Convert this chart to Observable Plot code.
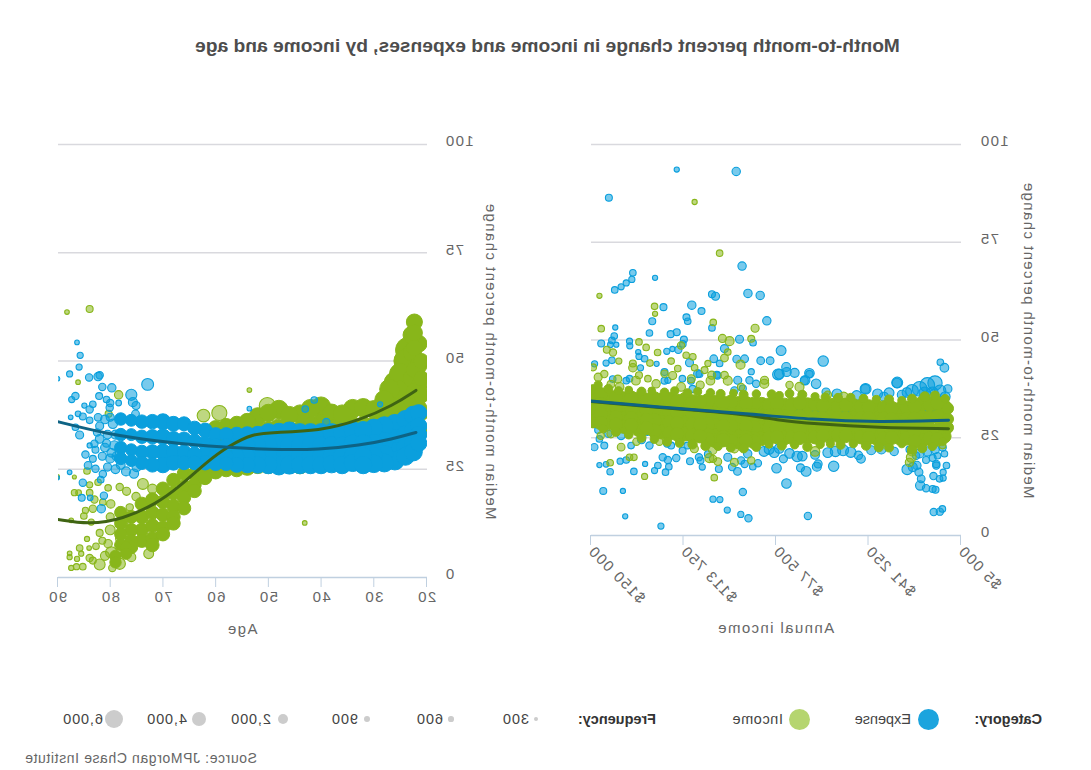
<!DOCTYPE html>
<html>
<head>
<meta charset="utf-8">
<script src="https://cdn.jsdelivr.net/npm/d3@7"></script>
<script src="https://cdn.jsdelivr.net/npm/@observablehq/plot@0.6"></script>
<style>
html,body{margin:0;padding:0;background:#fff;overflow:hidden}
#page{position:relative;width:1091px;height:770px;transform:scaleX(-1);font-family:"Liberation Sans",Arial,sans-serif;color:#666}
#page>svg,#page>div{position:absolute}
#title{left:-2px;width:1091px;top:35px;text-align:center;font-weight:bold;font-size:19.2px;color:#4d4d4d}
.lg{top:710px;font-size:14.5px;line-height:18px;letter-spacing:.9px;color:#444;white-space:nowrap}
.lb{font-weight:bold;color:#333;letter-spacing:0}
.dot{border-radius:50%}
#src{left:834px;top:750px;font-size:14px;letter-spacing:.6px;color:#666;white-space:nowrap}
</style>
</head>
<body>
<div id="page"></div>
<script>
// [annual income in $ thousands, median change %, frequency]
const incomeExpensePoints = [
[142.8,86.4,900],[116.2,93.6,500],[92.9,93.1,1300],[90.6,68.9,1300],[133.4,67.2,800],[124.7,65.9,500],[133.8,65.5,700],[136,64.6,700],[138,63.6,700],[140.5,62.8,800],[102.4,61.7,900],[101,61.2,1200],[88.3,61.9,1300],[83.5,61.4,1300],[121.4,58.4,900],[110.3,58.9,1300],[106.5,57.4,900],[112.4,55.8,900],[111.9,54.8,800],[125.8,54.8,900],[80.9,54.9,1300],[140.3,53.2,500],[102.4,53.1,800],[140.7,51,800],[126.9,51.8,800],[118.6,51.5,900],[116.2,52,900],[113.4,50.1,900],[91.6,50.2,1200],[86.3,49.3,800],[145.8,49.1,900],[142.2,48.8,600],[141.6,49.9,800],[139.9,48.8,500],[134.7,49.7,700],[134.6,48.5,700],[120.1,47.1,700],[117.9,47.7,500],[115.6,47.5,1000],[113.8,49,800],[97.5,47.8,1200],[75.3,47.3,1800],[131.3,46.9,500],[131,45.8,700],[128.8,45.2,800],[101.7,45.2,1100],[92.7,45.1,1100],[89.6,45.2,1100],[83.3,44.7,1100],[79.6,44.7,1100],[58.8,44.6,2000],[148.4,43.9,700],[143.9,44.1,700],[141.6,44.8,800],[124.1,43.9,500],[130.4,42.9,700],[111.2,44.2,1200],[73.3,43.1,1500],[76.5,41.2,2200],[73.1,41.8,1500],[70,41.6,1500],[64.2,41.5,1700],[65.9,39.7,1700],[61.6,38.8,1700],[87,41.9,700],[11.3,42.9,1400],[12.9,44.3,800],[29.8,39.1,2200],[42.2,37.5,2200],
[134.7,40.1,800],[119.7,39.7,700],[114,40.1,800],[108,41.4,1200],[99.4,44,800],[100.5,41.1,900],[92.3,39.7,1200],[87.7,39.7,1000],[85.1,38.8,1000],[93.6,37.1,1000],[90.3,37.6,900],[141.3,40,800],[136,39.6,800],[121,41.8,900],[121,39.6,900],[107.3,41.3,900],[100.2,40.9,1000],[110.6,39.6,900],[110,37.5,900],[76,41.3,1800],[66.2,39.6,1200],[64.2,41.3,1000],[53.4,36.2,1800],[57.7,36.7,1200],[45.7,35.8,1800],[37.5,36.2,1800],[42.3,37.5,1500],[29.9,39,1700],[24,37,3000],[21,37.5,4000],[18,38.5,4000],[15,39,3800],[19,36.5,2500],[16,36.5,2500],[13,37,2500],[11,35.5,1800],[10,37.5,1300],[33,36.5,1800],[28,36,1500],[26,36.6,1700],[35,35.5,1500],
[145,11.4,900],[137.3,11.4,500],[136.4,4.9,500],[122.4,2.4,700],[102,9.3,700],[99.3,9.2,700],[90.3,11.1,1000],[96.4,6.5,700],[91.1,5.4,700],[88.1,4.4,1000],[73.2,13.3,1700],[64.8,5,1000],[15.5,6,1000],[13.1,6.1,1000],[12.1,6.8,800],[142.3,16.3,800],[146.5,18,500],[143.9,18.2,600],[138.4,19,700],[136,19.3,800],[133,16.4,800],[128.6,18.3,500],[124.9,16.6,700],[123.6,17.9,800],[120.6,16.2,800],[119.3,17.6,800],[121.7,20,1000],[119.7,19.3,1000],[116.4,19.8,1000],[106.2,17.5,700],[106.9,19.2,900],[99.7,17,900],[94.5,17.5,1000],[92.4,16.4,1100],[89.6,18.3,1000],[86.4,17.6,800],[84.4,18.5,1000],[77.1,17.2,1700],[74.4,19.6,1200],[67.7,17.3,1200],[65.5,16.4,1800],[61.3,17.6,1500],[54.7,17.7,2000],[60.8,18.3,1200],[25.9,16.9,2000],[23.7,17.5,1500],[22.1,17.9,1300],[21.3,16.2,1200],[20.4,14.5,1100],[20.8,12.8,1600],[18.5,12.1,1000],[15.9,11.9,900],[14.8,11.7,900],[15.6,15.2,1000],[13.2,14.5,800],[11.8,14.7,700],[11.8,16.2,700],[10.5,17.9,800],[14.5,17.9,1000],[18.5,19.3,900],[15.9,19.8,900],[14,20.4,800],[11.3,20.9,800],[14.5,18.3,1000],[22.4,20.4,1000],
[148.5,22.6,1000],[146.5,24.7,800],[144.6,23,900],[134.1,23,800],[126.9,23,1000],[118.4,23,900],[113.9,21.7,900],[96.2,20,1200],[91,19.2,1000],[88.4,20.9,1300],[107.5,20,1000],[111,19,900],[104,20.8,900],[82,21.5,1800],[80,22,1800],[78,21.2,1800],[76,22.3,1800],[72,21,1700],[69,20.2,2000],[67,20.3,1700],[62,20.6,1400],[57,21.2,1800],[54,21.5,2000],[51,21.8,2200],[48,21.3,2000],[45,20.5,1300],[44,19.6,1400],[40,21.8,1500],[36,22,1500],[31,21.5,1300],
[21,21,1500],[18,21.5,1600],[15,22,1400],[12,22.5,1000],[25,22,900],[147,27,900],[143,26,1000],[138,25.5,1100],[130,24.5,1200],[120,23.5,1000],[112,23,900]
];
const incomeExpenseBand = [
[148,[33,29],2400],[144,[33,29],2400],[140,[33,28],2400],[136,[32,28],2400],[132,[32,28],2400],[128,[32,27],2400],[124,[32,27],2400],[120,[32,27],2400],[116,[32,26],2400],[112,[32,26],2400],[108,[32,26],2400],[104,[32,26],2400],[100,[32,26],2400],[96,[32,26],2400],[92,[32,26],2400],[88,[32,26],2400],[84,[32,26],2400],[80,[32,26],2400],[76,[32,26],2400],[72,[32,26],2400],[68,[32,26],2400],[64,[32,26],2400],[60,[32,26],2400],[56,[32,26],2400],[52,[32,26],2400],[48,[32,26],2400],[44,[32,26],2400],[40,[32,26],2400],[36,[32,26],2400],[32,[32,26],2400],[28,[32,26],2400],[24,[32,26],2400],[20,[32,26],2400],[16,[32,26],2400],[12,[32,26],2400]
];
const incomeIncomePoints = [
[109.2,85.3,500],[99.4,72.2,800],[146.5,61.3,500],[124.9,58.6,800],[124.7,56.7,500],[101.9,54.5,800],[145.8,52.9,800],[85.5,53,1200],[98.3,50.4,1200],[95.5,49.7,1500],[87,50.3,900],[131,49.5,800],[128.2,48.1,800],[123.7,46.8,800],[114.5,48.6,1000],[96.2,46.9,800],[143.6,47.5,900],[141.2,46.8,1000],[112.5,46.1,800],[109.9,45.7,800],[97.5,45.4,1100],[138.9,44.6,700],[133.4,44,900],[126.7,44.1,800],[133.4,42.9,1300],[118.4,44.6,800],[109.2,42.9,800],[91.2,43.7,1500],[149,43,900],[147,40.5,1200],[104,44,700],[102.5,41,1200],
[144.6,41.3,1000],[139.3,40,1200],[132.2,39.6,1400],[124.3,38.8,1300],[117.8,40.9,1200],[114.5,38,1400],[103,39.6,1400],[96.2,39.6,1500],[81.9,38.8,1500],[138.6,38,1400],[131,41,900],[127.5,40.1,800],[121,41.4,1000],[115.8,42.7,800],[110.5,40.1,1200],[105.3,42.3,900],[97.5,41,1100],[81.8,39.7,1200],[68.1,38,1500],[72,38.5,1000],[50.8,35.4,1800],[57,36,1000],[142,38.7,1100],[107,38.5,1200],[91,38,1000],
[101.5,14.8,800],[128.8,15.1,700],[142.3,18.6,800],[134.7,20,800],[133,20,800],[103.4,19.8,1500],[100.1,18.9,1100],[93.6,18.7,1200],[87,19.2,1000],[24.3,20,1800],[25,18.7,1300],
[138,22.6,1100],[115.2,23.5,1000],[109.3,22.2,1200],[102.1,21.8,1300],[93.6,22.2,1300],[102,19.6,1000],[132,24,1000],[146,25.5,1000],[142,26,1200],[123,24,1000],[105,23,1000],[62,21.5,1700],[24,21.5,1500],[12,23,800],[10,33,1100]
];
const incomeIncomeBand = [
[149,[36.8,34.2,31.8,29.3],1900],[146,[36.1,33.6,31,28.8],1800],[143,[35.5,33,30.4,28.9],2000],[140,[35.4,32.8,30.2,28.4],1800],[137,[35,32.4,29.9,27.9],1900],[134,[35.2,32.6,30,28.3],1800],[131,[34.9,32.1,29.6,27.1],2000],[128,[34.7,32,29.5,27.5],1800],[125,[35,32.3,29.4,26.8],1900],[122,[34.6,31.9,29,26.5],2000],[119,[34.8,31.8,28.9,26.2],1900],[116,[34.4,31.5,28.7,25.9],1800],[113,[34.7,31.6,28.8,26],2000],[110,[34.2,31.3,28.4,25.5],1900],[107,[34.1,31,28.3,25.4],1800],[104,[34.5,31.5,28.5,25.8,24.6],1900],[101,[34,31.2,28.1,25.5,24.3],2000],[98,[33.9,31,28,25.2,24.4],1800],[95,[34.1,31,28,25,24.2],1900],[92,[33.7,30.8,27.8,25,24],2000],[89,[33.8,30.9,27.9,25.1,24.3],1800],[86,[33.6,30.7,27.7,24.9,24],1900],[83,[33.5,30.5,27.6,24.8],2000],[80,[33.4,30.6,27.5,25],1900],[77,[33.9,30.8,27.6,25.2],1800],[74,[33.3,30.4,27.4,25],2000],[71,[33.5,30.3,27.3,25.1],1900],[68,[33.9,30.5,27.2,25],1800],[65,[33.4,30.2,27.1,25.4],2000],[62,[33.6,30.1,27.3,25.2],1900],[59,[33.2,30,27,25.5],1800],[56,[33.3,30.2,27.1,25.8],2000],[53,[33.1,30,27,25.6],1900],[50,[33.4,30,27.2,25.5],1800],[47,[33.2,30.1,27,25.7],2000],[44,[33,29.9,27.1,25.2],1900],[41,[33,30,27,25],1800],[38,[32.8,29.8,26.9,25],2000],[35,[32.7,29.9,26.8,24.8],1900],[32,[32.6,29.7,26.9,25],1800],[29,[32.2,29.5,26.8,25.1],2000],[26,[32.6,29.8,27,24.9],1900],[23,[33,29.9,26.8,24],1800],[20,[33.8,30.2,27,24.4],2000],[17,[33.5,30.1,27.1,24.8],1900],[14,[33.8,30.4,27,24.6],1800],[11.5,[33,30,27.2,25.4],2000],[10,[32.5,29.8,27.6],1300]
];
const incomeIncomeEdge = [
[147,38.5,1200],[143,37.5,1500],[139,37,1300],[135,37.2,1100],[130,36.8,1500],[126,37,1100],[121,36.6,1400],[117,37,1200],[112,36.4,1500],[108,36.8,1200],[103,36.5,1300],[99,36.2,1500],[94,36.4,1100],[90,36,1500],[85,36.2,1300],[79,36.1,1500],[76,35.8,1200],[72,36.3,1400],[67,36,1500],[62,35.5,1200],[58,35.4,1300],[53,35.2,1500],[48,35.3,1300],[43,35,1400],[38,34.8,1200],[33,34.8,1500],[28,34.5,1200],[24,35,1500],[19,35.5,1800],[15,35.8,1500],[11,35,1300],
[145,27.3,1200],[140,26.5,1500],[135,25.8,1400],[130,25,1500],[125,24.6,1300],[120,24,1500],[115,23.8,1400],[110,23.3,1600],[105,22.9,1500],[100,22.8,1300],[95,22.5,1500],[90,22.3,1600],[85,22.6,1400],[80,23.3,1100],[75,23,1500],[70,23.2,1300],[65,22.7,1600],[60,23.3,1300],[56,23.5,1200],[52,23.2,1500],[47,23.5,1300],[42,23,1600],[37,22.6,1600],[33,22.5,1500],[28,23.5,1300],[24,22,1500],[20,22.3,1500],[16,22.8,1300],[12,24,1100]
];
const incomeExpenseLine = [[150,34.4],[115,32.4],[89,31.2],[63,29.6],[37,29],[9.7,29.5]];
const incomeIncomeLine = [[150,34.3],[115,32.3],[89,31],[76,29.4],[63,28.6],[37,27.6],[9.7,27.3]];

// [age, median change %, frequency]
const ageIncomePoints = [
[88.2,61.3,400],[83.9,62,900],[86.1,45.1,400],[78.4,42.2,1300],[53.6,43.3,400],[80.3,37.8,900],[50.2,39.7,4800],[59.3,38,4200],[62.3,37.4,3000],[84.4,24.6,800],[86.8,23.2,300],[90,23.3,300],[83.9,21.4,700],[82.3,22,800],[80.4,20.7,800],[86.8,19.6,700],[86,19.6,600],[83.9,19.6,800],[83,18,1000],[78.2,20.9,1000],[76.9,19.9,1200],[75.1,18.7,1300],[73.8,21.6,2200],[72,20.5,1600],[79.9,17,1300],[81.4,17.4,800],[83.3,15.9,1000],[84.7,15.5,700],[85,14.2,800],[78.2,15.5,1000],[76.3,16.2,1000],[83.6,12.8,700],[87.4,13.2,400],[82,10.3,900],[84.4,8.9,500],[82.7,7.2,800],[85.8,6.8,800],[84,6.8,400],[87.7,5.6,400],[87.7,4.7,500],[85.5,5.5,500],[86.3,4.3,500],[83.9,4.5,1000],[87.4,2.2,500],[86.4,2.5,700],[85.2,2.5,800],[82,3,2200],[83.3,3.9,900],[79.6,2.2,1000],[78.2,3.2,2400],[76,4.7,1500],[76.8,5.5,1200],[79.8,5.8,2400],[80.4,7.8,1300],[72.7,5.5,1800],[43.1,12.6,400],
[80,11,1800],[78,9,2000],[81,5,1500],[77.5,12,1800],[80,14,1200],[81.5,8.5,900]
];
const ageIncomeBand = [
[79,[5,3.5],1700],[77,[7,5.5],1700],[78,[15,12.5,10,7.5],2000],[76,[14,11,8.5,7],2200],[74,[17,14,11,8.5],2400],[72,[18,15,12,9,7.5],2400],[70,[20.5,17.5,14.5,11.5,10],2400],[68,[22.5,19.5,16.5,14,12.5],2400],[66,[24,21,18.5,16],2400],[64,[24,21.5,20],2400],[62,[24,23],2400],
[60,[34.5,31,27.5,24.5],3000],[58,[35,32,28.5,25],3000],[56,[35.5,32,28.5,25],3000],[54,[36,32.5,29,25.5],3600],[52,[37.2,33.5,29.5,26],4000],[50,[38,34,30,26],4000],[48,[38.8,34.5,30,26],4500],[46,[37.5,34,30,26],4000],[44,[37.8,34,30,26],4200],[42,[39,35,31,27],4500],[40,[39.5,35.5,31,27],4800],[38,[38,34.5,30.5,27],4200],[36,[37.8,34,30.5,27],4200],[34,[39,35,31,27],4500],[32,[39.2,35,31,27],4500],[30,[38.8,35,31,27],4200],[28,[41,37,33,29],4800],[27,[43.5,39.5,35,30],5200],[26,[45,41,37,32],6000],[25,[47,43,39,34],6000],[24,[50,45,40,35],7000],[23.4,[52.5,47,42,37],9000],[22.8,[56,52,46,41,36],4000],[22.3,[59,56.5,53,48,43,38],3400],[21.5,[54,49,44,39,34],3800],[21,[50,46,42,38,34],3000]
];
const ageExpensePoints = [
[86.3,54.3,400],[85.7,51.3,700],[85.9,48.6,700],[87.7,47,700],[90,45.9,400],[84,46.2,1000],[82.3,46.4,1300],[82,46.7,1000],[81.5,44,1000],[79.7,43.8,1300],[72.9,44.6,2600],[76,42.2,2300],[82.1,41.9,900],[86.6,41.9,1000],[87.3,41.1,700],[80.7,41.1,800],[80,40.3,1000],[83.3,40,800],[84.9,39.7,500],[78.4,40.3,600],[75.7,40.5,1500],[75.1,39.7,1200],[83.9,38.8,1000],[80.1,39.2,1000],[86.1,37.8,600],[85.2,37.2,900],[87.5,37,400],[82.3,37,1100],[75.2,37.8,1100],[53.6,39,400],[83.9,36.3,800],[86.6,34.7,800],[85.8,32.9,1200],[83.9,30.5,500],[84.7,28.4,1000],[83,30.9,1000],[83.3,27.4,900],[84.2,25.9,1100],[82.8,25.1,1000],[81.4,23.9,1000],[87.7,24.3,400],[85.2,21.9,1000],[81.8,22.6,800],[81.2,18.9,1000],[85.4,18.4,900],[83.8,18.4,600],[81.7,15.9,1300],[90,23,300],
[82,35,1200],[82,32,1400],[81,30,1400],[81.5,28,1200],[80.5,33,1400],[80,27.5,1500],[80.5,25.5,1200],[79,25,1400],[77,24.5,1500],[75.5,24,1600],[75,25.5,1500],[41.3,41,800],[43,38.9,800],[28.8,40,500],[39,35.9,1000],
[81,36.5,1400],[79.5,35.5,1600],[79,33,1500],[79.2,30.5,1600],[78.8,28,1500],[80.7,31,1200],[79.8,28.8,1400],[82.5,33.5,1000],[82.8,29.5,900],[78,26,1400],[80,37,1200]
];
const ageExpenseBand = [
[78,[36.6,33,30,27.5],2400],[76,[36.3,33,29.5,27],2200],[74,[36,32.5,29,26.5],2800],[72,[36,32.5,29,26],3200],[70,[36,32.5,29,26],3800],[68,[35.5,32,29,26.5],3400],[66,[35.5,32,29,26.5],3000],[64,[34.5,31.5,28.5,26.5],3000],[62,[34,31,28.5,26.5],3200],[60,[33,30.5,28,26.3],3000],[58,[33,30.5,28,26.3],3000],[56,[33,30.5,28,26],3400],[54,[33,30.5,28,26],3800],[52,[33,30.5,28,26],4200],[50,[33.5,30.5,28,26],4800],[48,[33.5,30.5,28,25.8],5200],[46,[33.8,30.5,28,26],5200],[44,[33.5,30.5,28,26],4800],[42,[33.5,30.5,28,26],4800],[40,[33.5,30.5,28,26],4800],[38,[33.5,30.5,28,26.2],4800],[36,[33.5,30.5,28,26],4800],[34,[34,31,28,26.5],4800],[32,[34,31,28,26],4800],[30,[34.5,31,28,26.3],5000],[28,[35,31.5,28.5,26.5],5200],[26,[35.5,32,29,27],5400],[24,[36.5,33,30,28],5000],[22.5,[37.5,34,31,29],5000],[21.5,[38,35,33,31],4200]
];
const ageExpenseLine = [[90,36],[80.8,33.2],[71.3,31.5],[61.8,30.3],[49.2,29.5],[40.3,29.5],[32.7,30.5],[26.4,32],[22,33.5]];
const ageIncomeLine = [[90,13.4],[83.9,12.2],[77.6,13.5],[71.3,17],[66.9,20.9],[61.8,26.6],[57.4,30.5],[52.9,33.2],[49.2,33.5],[40.3,33.8],[32.7,36.3],[26.4,39.7],[22,43.2]];

const yTicks = [0,25,50,75,100];
const incomeTicks = [5,41.25,77.5,113.75,150];
const incomeTickLabels = ["$5 000","$41 250","$77 500","$113 750","$150 000"];
const ageTicks = [20,30,40,50,60,70,80,90];
const yTitle = "Median month-to-month percent change";
const legendFreq = [["300",300],["600",600],["900",900],["2,000",2000],["4,000",4000],["6,000",6000]];

const BLUE = "#0a9fdd", GREEN = "#88b61a", BLUEL = "#0e6384", GREENL = "#3f6413";
const expand = cols => cols.flatMap(([x, ys, f]) => ys.map(y => [x, y, f]));
const rr = {type:"sqrt", domain:[0,6000], range:[0,9]};
const bubbles = (d, c) => Plot.dot(d, {x:"0", y:"1", r:"2", fill:c, fillOpacity:.55, stroke:c, strokeWidth:1.1, clip:true});
// the crowded part of a series: so many points overlap there that the colour is solid
const crowd = (d, c, k) => Plot.dot(d, {x:"0", y:"1", r:e=>e[2]*k, fill:c, stroke:c, strokeWidth:1, clip:true});
const axisStyle = {fontFamily:'"Liberation Sans",Arial,sans-serif', fontSize:"15px", letterSpacing:"1.4px", background:"transparent", overflow:"visible"};
const axisText = "#666";

function chart(o){
  return Plot.plot({
    width:o.width, height:560, marginLeft:o.ml, marginRight:o.mr, marginTop:44, marginBottom:o.mb,
    style:axisStyle,
    x:{domain:o.xd, label:null},
    y:{domain:[0,100], label:null},
    r:rr,
    marks:[
      Plot.gridY(yTicks.slice(1), {stroke:"#d9d9de", strokeOpacity:1, strokeWidth:1.4}),
      Plot.ruleY([0], {stroke:"#c0d0e0", strokeWidth:1.4}),
      Plot.axisY({ticks:yTicks, tickSize:0, tickPadding:o.tp, dy:-3, fill:axisText, label:yTitle, labelAnchor:"center", labelArrow:"none", labelOffset:o.lo}),
      o.xAxis,
      Plot.axisX({anchor:"bottom", ticks:[], label:o.xTitle, labelAnchor:"center", labelArrow:"none", labelOffset:o.xlo, fill:axisText, tickSize:0}),
      ...o.layers
    ]
  });
}

const page = document.getElementById("page");
const add = (html) => { const t=document.createElement("div"); t.innerHTML=html; const e=t.firstChild; page.appendChild(e); return e; };

add('<div id="title">Month-to-month percent change in income and expenses, by income and age</div>');

const c1 = chart({
  width:560, ml:130, mr:60, mb:125, tp:19, lo:74, xd:[5,150], xlo:97, xTitle:"Annual income",
  xAxis: Plot.axisX({ticks:incomeTicks, tickFormat:(d,i)=>incomeTickLabels[i], tickRotate:-45, tickSize:10, tickPadding:3, stroke:"#c0d0e0", fill:axisText, label:null}),
  layers:[
    crowd(expand(incomeExpenseBand), BLUE, 1),
    bubbles(incomeExpensePoints, BLUE),
    bubbles(incomeIncomePoints, GREEN),
    crowd(expand(incomeIncomeBand), GREEN, 1.9),
    crowd(incomeIncomeEdge, GREEN, 1),
    Plot.line(incomeIncomeLine, {x:"0", y:"1", stroke:GREENL, strokeWidth:3, curve:"basis", clip:true}),
    Plot.line(incomeExpenseLine, {x:"0", y:"1", stroke:BLUEL, strokeWidth:3, curve:"basis", clip:true})
  ]
});
c1.style.position="absolute"; c1.style.left="0"; c1.style.top="100px"; page.appendChild(c1);

const c2 = chart({
  width:531, ml:104, mr:58, mb:83, tp:18, lo:70, xd:[20,90], xlo:56, xTitle:"Age",
  xAxis: Plot.axisX({ticks:ageTicks, tickFormat:d=>String(d), tickSize:10, tickPadding:4, stroke:"#c0d0e0", fill:axisText, label:null}),
  layers:[
    bubbles(ageIncomePoints, GREEN),
    crowd(expand(ageIncomeBand), GREEN, 1.4),
    bubbles(ageExpensePoints, BLUE),
    crowd(expand(ageExpenseBand), BLUE, 1.2),
    Plot.line(ageIncomeLine, {x:"0", y:"1", stroke:GREENL, strokeWidth:3, curve:"basis", clip:true}),
    Plot.line(ageExpenseLine, {x:"0", y:"1", stroke:BLUEL, strokeWidth:3, curve:"basis", clip:true})
  ]
});
c2.style.position="absolute"; c2.style.left="560px"; c2.style.top="100px"; page.appendChild(c2);

// legend, placed in the unmirrored page
const legendCenters = [555,640,724,808,892,977];
const legendText = [562,648,733,820,904,988];
add(`<div class="lg lb" style="left:49px">Category:</div>`);
add(`<div class="dot" style="left:152px;top:709px;width:21px;height:21px;background:#1ca4de"></div>`);
add(`<div class="lg" style="left:180px;letter-spacing:0">Expense</div>`);
add(`<div class="dot" style="left:280.5px;top:709px;width:21px;height:21px;background:#b5d56f"></div>`);
add(`<div class="lg" style="left:308px;letter-spacing:.6px">Income</div>`);
add(`<div class="lg lb" style="left:435px">Frequency:</div>`);
legendFreq.forEach(([t,f],i)=>{
  const r = 0.116*Math.sqrt(f), c = legendCenters[i];
  add(`<div class="dot" style="left:${c-r}px;top:${719-r}px;width:${2*r}px;height:${2*r}px;background:#cccccc"></div>`);
  add(`<div class="lg" style="left:${legendText[i]}px">${t}</div>`);
});
add('<div id="src">Source: JPMorgan Chase Institute</div>');
</script>
</body>
</html>
